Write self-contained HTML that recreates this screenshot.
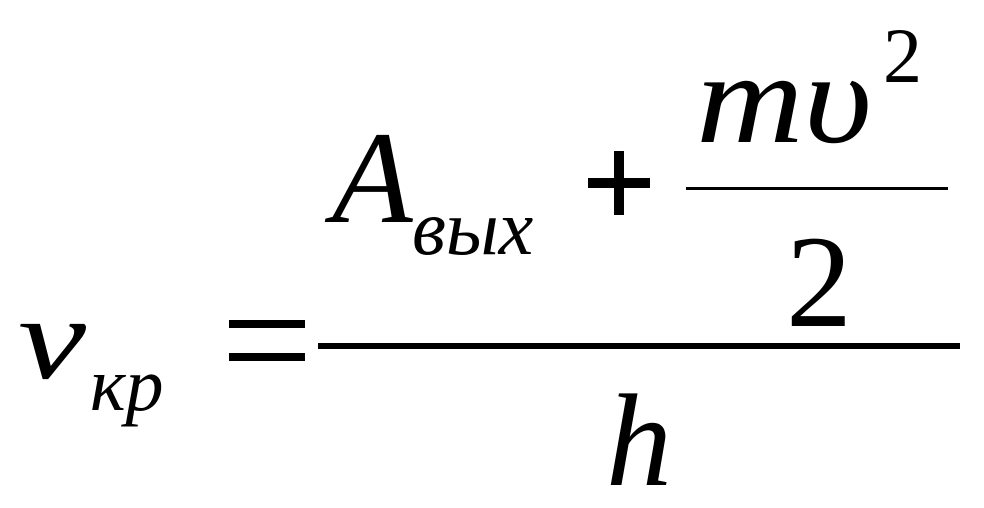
<!DOCTYPE html>
<html><head><meta charset="utf-8"><style>
html,body{margin:0;padding:0;background:#fff;}
svg{display:block;}
text{font-family:"Liberation Serif",serif;font-style:italic;fill:#000;}
</style></head><body>
<svg width="984" height="508" viewBox="0 0 984 508" xmlns="http://www.w3.org/2000/svg">
<text x="18" y="378" font-size="118" textLength="68" lengthAdjust="spacingAndGlyphs">ν</text>
<text x="90" y="410" font-size="76">кр</text>
<rect x="229" y="320" width="76" height="8"/>
<rect x="229" y="353" width="76" height="8"/>
<rect x="318" y="343" width="642" height="6"/>
<text x="332" y="222" font-size="132">A</text>
<text x="412" y="254" font-size="78">вых</text>
<rect x="588" y="178" width="62" height="10"/>
<rect x="614" y="151" width="10" height="64"/>
<text x="696" y="142" font-size="130" textLength="176" lengthAdjust="spacingAndGlyphs">mυ</text>
<text x="883" y="82" font-size="78" style="font-style:normal">2</text>
<rect x="686" y="187" width="262" height="3"/>
<text x="786" y="326" font-size="132" style="font-style:normal">2</text>
<text x="606" y="485" font-size="132">h</text>
</svg>
</body></html>
